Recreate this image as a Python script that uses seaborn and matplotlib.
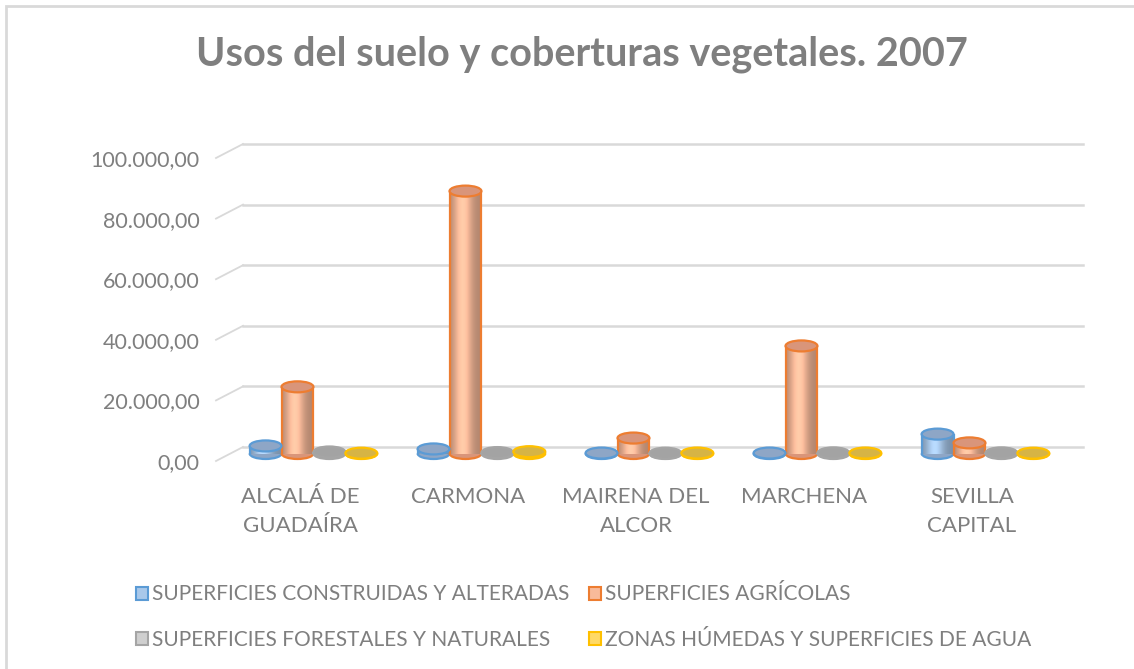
import matplotlib.pyplot as plt
import matplotlib.transforms as mtransforms
from matplotlib.patches import Ellipse, Rectangle, Arc, Patch
from matplotlib.colors import to_rgb
import numpy as np
import pandas as pd
import seaborn as sns

# datos (hectáreas)
municipios = ['ALCALÁ DE\nGUADAÍRA', 'CARMONA', 'MAIRENA DEL\nALCOR', 'MARCHENA', 'SEVILLA\nCAPITAL']
series = ['SUPERFICIES CONSTRUIDAS Y ALTERADAS', 'SUPERFICIES AGRÍCOLAS',
          'SUPERFICIES FORESTALES Y NATURALES', 'ZONAS HÚMEDAS Y SUPERFICIES DE AGUA']
construidas = [2500, 1500, 150, 150, 6400]
agricolas = [22000, 86600, 5100, 35500, 3500]
forestales = [500, 300, 100, 200, 200]
humedas = [100, 600, 150, 150, 100]
yticks = [0, 20000, 40000, 60000, 80000, 100000]
ytick_labels = ['0,00', '20.000,00', '40.000,00', '60.000,00', '80.000,00', '100.000,00']

# colores: borde, cuerpo claro, tapa
edge_cols = ['#5B9BD5', '#ED7D31', '#A5A5A5', '#FFC000']
body_cols = ['#A9C8EA', '#F8BA9A', '#CFCFCF', '#FFD966']
top_cols = ['#8EA6C6', '#D9957A', '#A3A3A3', '#D6B445']
gray = '#7F7F7F'

df = pd.DataFrame({
    'municipio': np.repeat(municipios, 4),
    'serie': series * len(municipios),
    'valor': np.ravel(np.column_stack([construidas, agricolas, forestales, humedas])),
})

plt.rcParams['font.family'] = ['Lato', 'DejaVu Sans']
fig = plt.figure(figsize=(11.34, 6.69), dpi=100)
W, H = 1134, 669

# marco del gráfico
fig.patches.append(Rectangle((6 / W, -0.1), 1.2, (H - 6) / H + 0.1, transform=fig.transFigure,
                             fill=False, edgecolor='#D9D9D9', linewidth=2))

ax = fig.add_axes([216 / W, (H - 461) / H, (1056 - 216) / W, 303 / H])
sns.barplot(data=df, x='municipio', y='valor', hue='serie', hue_order=series,
            palette=body_cols, width=0.76, ax=ax, legend=False, zorder=3)

ax.set_xlim(-0.5, 4.5)
ax.set_ylim(0, 100000)

# pared del fondo con perspectiva
dx, dy = 27, 14
inv = ax.transData.inverted()
for t in yticks:
    p0 = ax.transData.transform((-0.5, t))
    p1 = p0 + np.array([dx, dy])
    p2 = np.array([1083 - 216 + ax.transAxes.transform((0, 0))[0], p1[1]])
    q0, q1, q2 = inv.transform(p0), inv.transform(p1), inv.transform(p2)
    ax.plot([q0[0], q1[0]], [q0[1], q1[1]], color='#D9D9D9', lw=1.3, zorder=1, clip_on=False)
    ax.plot([q1[0], q2[0]], [q1[1], q1[1]], color='#D9D9D9', lw=1.8, zorder=1, clip_on=False)

# cilindros a partir de las barras de seaborn (a media profundidad)
off = ax.transData + mtransforms.ScaledTranslation(0, 7.5 / 100, fig.dpi_scale_trans)
px_per_y = 303 / 100000
ell_h = 11 / px_per_y
shift = 0.08
n = len(municipios)
for i, bar in enumerate(ax.patches[:4 * n]):
    s = i // n
    x0, w, h = bar.get_x() + shift, bar.get_width(), bar.get_height()
    bar.set_x(x0)
    bar.set_edgecolor('none')
    bar.set_transform(off)
    cx = x0 + w / 2
    ax.add_patch(Ellipse((cx, 0), w, ell_h, facecolor=top_cols[s], edgecolor='none',
                         zorder=2.9, clip_on=False, transform=off))
    # sombreado cilíndrico
    c = np.array(to_rgb(body_cols[s]))
    u = np.linspace(0, 1, 64)
    shade = 0.72 + 0.38 * np.exp(-((u - 0.4) / 0.28) ** 2)
    img = np.clip(c[None, :] * shade[:, None], 0, 1)[None, :, :]
    if h > 0:
        im = ax.imshow(img, extent=(x0, x0 + w, 0, h), aspect='auto', zorder=3.1,
                       interpolation='bicubic', transform=off)
        im.set_clip_path(bar)
        for xe in (x0, x0 + w):
            ax.plot([xe, xe], [0, h], color=edge_cols[s], lw=1.6, zorder=3.2,
                    solid_capstyle='butt', transform=off)
    ax.add_patch(Arc((cx, 0), w, ell_h, theta1=180, theta2=360, edgecolor=edge_cols[s],
                     lw=1.6, zorder=3.2, clip_on=False, transform=off))
    ax.add_patch(Ellipse((cx, h), w, ell_h, facecolor=top_cols[s], edgecolor=edge_cols[s],
                         lw=1.6, zorder=3.3, clip_on=False, transform=off))

ax.set_xlim(-0.5, 4.5)
ax.set_ylim(0, 100000)

ax.set_yticks(yticks)
ax.set_yticklabels(ytick_labels)
ax.tick_params(axis='y', length=0, pad=12, labelsize=15.5, labelcolor=gray)
ax.tick_params(axis='x', length=0, pad=19, labelsize=16, labelcolor=gray)
for lab in ax.get_xticklabels():
    lab.set_linespacing(1.55)
ax.set_xlabel('')
ax.set_ylabel('')
for sp in ax.spines.values():
    sp.set_visible(False)
ax.set_facecolor('none')

fig.text(582 / W, (H - 54) / H, 'Usos del suelo y coberturas vegetales. 2007', ha='center', va='center',
         fontsize=28.5, fontweight='bold', color=gray)

# leyenda (orden por filas como en Excel)
handles = [Patch(facecolor=body_cols[k], edgecolor=edge_cols[k], linewidth=1.5) for k in range(4)]
order = [0, 2, 1, 3]
fig.legend([handles[k] for k in order], [series[k] for k in order], loc='center left',
           bbox_to_anchor=(117 / W, (H - 617) / H), ncol=2,
           frameon=False, fontsize=15, labelcolor=gray, handlelength=0.6, handleheight=0.6,
           handletextpad=0.2, columnspacing=0.9, labelspacing=1.2)

fig.savefig('out.png', dpi=100)
